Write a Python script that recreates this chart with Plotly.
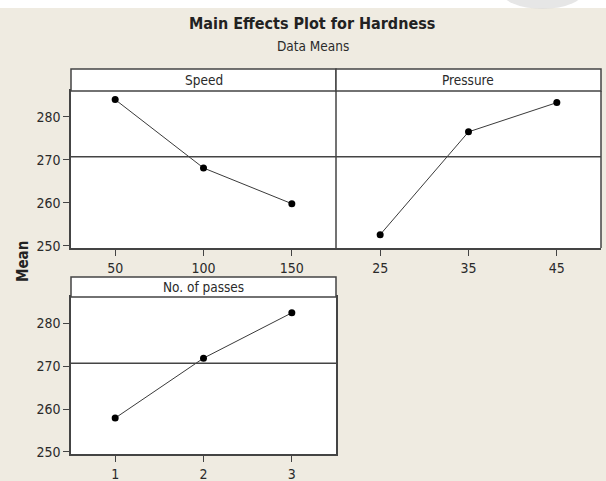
import plotly.graph_objects as go

# ---- data ----
speed_levels = [50, 100, 150]
speed_means = [284.0, 268.1, 259.8]
pressure_levels = [25, 35, 45]
pressure_means = [252.6, 276.5, 283.3]
passes_levels = [1, 2, 3]
passes_means = [257.9, 271.9, 282.5]
grand_mean = 270.7
y_ticks = [250, 260, 270, 280]
panel_titles = ["Speed", "Pressure", "No. of passes"]

W, H = 606, 481
FONT = "DejaVu Sans Condensed, Liberation Sans Narrow, Arial Narrow, sans-serif"
BG = "#EFEBE1"
LINE = "#444444"
TXT = "#2a2a2a"

def px_x(p):
    return p / W

def px_y(p):
    return (H - p) / H

fig = go.Figure()

series = [
    (speed_levels, speed_means, "x", "y"),
    (pressure_levels, pressure_means, "x2", "y2"),
    (passes_levels, passes_means, "x3", "y3"),
]
for xs, ys, xa, ya in series:
    fig.add_trace(go.Scatter(
        x=xs, y=ys, xaxis=xa, yaxis=ya, mode="lines+markers",
        line=dict(color="#3a3a3a", width=1),
        marker=dict(color="black", size=7),
        showlegend=False, hoverinfo="x+y"))

axis_common = dict(showline=True, mirror=True, linecolor=LINE, linewidth=1.5,
                   showgrid=False, zeroline=False, ticks="outside", ticklen=6,
                   tickcolor=LINE, tickwidth=1, automargin=False,
                   tickfont=dict(family=FONT, size=14, color=TXT))

top_dom = [px_y(248), px_y(91)]
bot_dom = [px_y(454), px_y(297)]
left_dom = [px_x(71), px_x(336)]
right_dom = [px_x(336), px_x(601)]

fig.update_layout(
    width=W, height=H,
    margin=dict(l=0, r=0, t=0, b=0),
    paper_bgcolor=BG, plot_bgcolor="white",
    xaxis=dict(axis_common, domain=left_dom, anchor="y", range=[25, 175],
               tickvals=speed_levels),
    yaxis=dict(axis_common, domain=top_dom, anchor="x", range=[249.5, 286.0],
               tickvals=y_ticks, mirror=False),
    xaxis2=dict(axis_common, domain=right_dom, anchor="y2", range=[20, 50],
                tickvals=pressure_levels),
    yaxis2=dict(axis_common, domain=top_dom, anchor="x2", range=[249.5, 286.0],
                tickvals=y_ticks, showticklabels=False, ticks="", showline=False),
    xaxis3=dict(axis_common, domain=left_dom, anchor="y3", range=[0.5, 3.5],
                tickvals=passes_levels),
    yaxis3=dict(axis_common, domain=bot_dom, anchor="x3", range=[249.5, 286.2],
                tickvals=y_ticks),
)

shapes = []
# white band at the top and faint grey blot
shapes.append(dict(type="rect", xref="paper", yref="paper", x0=0, x1=1,
                   y0=px_y(8), y1=1, fillcolor="white", line=dict(width=0), layer="below"))
shapes.append(dict(type="circle", xref="paper", yref="paper", x0=px_x(500), x1=px_x(585),
                   y0=px_y(9), y1=px_y(-30), fillcolor="#dcdcdc", line=dict(width=0),
                   opacity=0.7, layer="below"))
# vertical borders: divider between top panels and right border of Pressure panel
for xp in (336, 601):
    shapes.append(dict(type="line", xref="paper", yref="paper", x0=px_x(xp), x1=px_x(xp),
                       y0=top_dom[0], y1=top_dom[1], line=dict(color=LINE, width=1.5)))
# strips
strips = [
    (left_dom, 69, 91, panel_titles[0]),
    (right_dom, 69, 91, panel_titles[1]),
    (left_dom, 277, 297, panel_titles[2]),
]
annotations = []
for dom, ytop, ybot, title in strips:
    shapes.append(dict(type="rect", xref="paper", yref="paper", x0=dom[0], x1=dom[1],
                       y0=px_y(ybot), y1=px_y(ytop), fillcolor="white",
                       line=dict(color=LINE, width=1.5)))
    annotations.append(dict(xref="paper", yref="paper", x=(dom[0] + dom[1]) / 2,
                            y=(px_y(ybot) + px_y(ytop)) / 2, text=title, showarrow=False,
                            font=dict(family=FONT, size=13.5, color=TXT),
                            xanchor="center", yanchor="middle"))
# grand mean reference lines
for xa, ya in [("x", "y"), ("x2", "y2"), ("x3", "y3")]:
    shapes.append(dict(type="line", xref=f"{xa} domain", yref=ya, x0=0, x1=1,
                       y0=grand_mean, y1=grand_mean, line=dict(color=LINE, width=1.5)))

annotations.append(dict(xref="paper", yref="paper", x=px_x(312), y=px_y(23.5),
                        text="<b>Main Effects Plot for Hardness</b>", showarrow=False,
                        font=dict(family=FONT, size=16, color="#222222"),
                        xanchor="center", yanchor="middle"))
annotations.append(dict(xref="paper", yref="paper", x=px_x(313), y=px_y(46.5),
                        text="Data Means", showarrow=False,
                        font=dict(family=FONT, size=13.5, color=TXT),
                        xanchor="center", yanchor="middle"))
annotations.append(dict(xref="paper", yref="paper", x=px_x(23), y=px_y(262),
                        text="<b>Mean</b>", showarrow=False, textangle=-90,
                        font=dict(family=FONT, size=15, color="#222222"),
                        xanchor="center", yanchor="middle"))

fig.update_layout(shapes=shapes, annotations=annotations)
fig.write_html("out.html", config={"displayModeBar": False},
               post_script="document.body.style.margin='0';")
